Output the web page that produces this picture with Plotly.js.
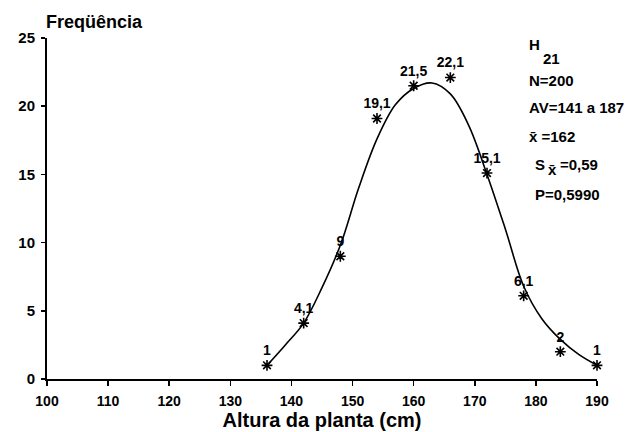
<!DOCTYPE html>
<html>
<head>
<meta charset="utf-8">
<script src="https://cdn.plot.ly/plotly-3.0.1.min.js"></script>
<style>
  html, body { margin: 0; padding: 0; background: #fff; }
  #chart { width: 626px; height: 432px; }
</style>
</head>
<body>
<div id="chart"></div>
<script>
// Observed frequency per height class (class centres, cm)
const classCentres = [136, 142, 148, 154, 160, 166, 172, 178, 184, 190];
const frequencies  = [1, 4.1, 9, 19.1, 21.5, 22.1, 15.1, 6.1, 2, 1];
const freqLabels   = ['1', '4,1', '9', '19,1', '21,5', '22,1', '15,1', '6,1', '2', '1'];

// Fitted frequency curve
const curveX = [136, 139, 142, 145, 148, 151, 154, 157, 160, 163, 166, 169, 172, 175, 178, 181, 184, 187, 190];
const curveY = [1.0, 2.5, 4.1, 6.7, 9.8, 14.0, 17.6, 20.1, 21.3, 21.7, 20.9, 18.6, 15.0, 11.0, 6.8, 4.4, 2.9, 1.8, 1.0];

// Tick values
const xTicks = [100, 110, 120, 130, 140, 150, 160, 170, 180, 190];
const yTicks = [0, 5, 10, 15, 20, 25];

// Summary statistics block: text and pixel anchor (left x, centre y)
const statTexts = ['H', '21', 'N=200', 'AV=141 a 187', 'x\u0304 =162', 'S', 'x\u0304', '=0,59', 'P=0,5990'];
const statLeft  = [527, 541, 527, 527, 527, 533, 546, 558, 533];
const statMid   = [45, 59, 80, 107, 136, 164, 169, 164, 194];

const FONT = 'Liberation Sans, Arial, sans-serif';

// pixel -> paper helpers for the plot area (l=47, r=597, t=38, b=379)
const px = v => (v - 47) / 550;
const py = v => (379 - v) / 341;

const traces = [
  {
    x: curveX, y: curveY,
    type: 'scatter', mode: 'lines',
    line: { color: '#000', width: 1.6, shape: 'spline', smoothing: 1 },
    hoverinfo: 'skip', showlegend: false
  },
  {
    x: classCentres, y: frequencies,
    type: 'scatter', mode: 'markers+text',
    text: freqLabels, textposition: 'top center',
    textfont: { family: FONT, size: 14, color: '#000', weight: 'bold' },
    marker: { symbol: 'asterisk-open', size: 9, color: '#000', line: { color: '#000', width: 1.6 } },
    cliponaxis: false, showlegend: false
  }
];

const annotations = statTexts.map((t, i) => ({
  text: t,
  xref: 'paper', yref: 'paper',
  x: px(statLeft[i]), xanchor: 'left',
  y: py(statMid[i]), yanchor: 'middle',
  showarrow: false,
  font: { family: FONT, size: 15, color: '#000', weight: 'bold' }
}));
annotations.push({
  text: 'Freqüência',
  xref: 'paper', yref: 'paper',
  x: px(44), xanchor: 'left',
  y: py(22), yanchor: 'middle',
  showarrow: false,
  font: { family: FONT, size: 18, color: '#000', weight: 'bold' }
});

const layout = {
  width: 626, height: 432,
  margin: { l: 47, r: 29, t: 38, b: 53 },
  paper_bgcolor: '#fff', plot_bgcolor: '#fff',
  showlegend: false,
  xaxis: {
    range: [100, 190], tickvals: xTicks, ticktext: xTicks.map(String),
    showgrid: false, zeroline: false,
    showline: true, linecolor: '#000', linewidth: 2,
    ticks: 'outside', ticklen: 5, tickwidth: 1.5, tickcolor: '#000',
    ticklabelstandoff: 3,
    tickfont: { family: FONT, size: 14, color: '#000', weight: 'bold' },
    title: { text: 'Altura da planta (cm)', font: { family: FONT, size: 20, color: '#000', weight: 'bold' }, standoff: 4 }
  },
  yaxis: {
    range: [0, 25], tickvals: yTicks, ticktext: yTicks.map(String),
    showgrid: false, zeroline: false,
    showline: true, linecolor: '#000', linewidth: 2,
    ticks: 'outside', ticklen: 4, tickwidth: 1.5, tickcolor: '#000',
    ticklabelstandoff: 3,
    tickfont: { family: FONT, size: 15, color: '#000', weight: 'bold' }
  },
  annotations: annotations
};

Plotly.newPlot('chart', traces, layout, { displayModeBar: false, staticPlot: true });
</script>
</body>
</html>
